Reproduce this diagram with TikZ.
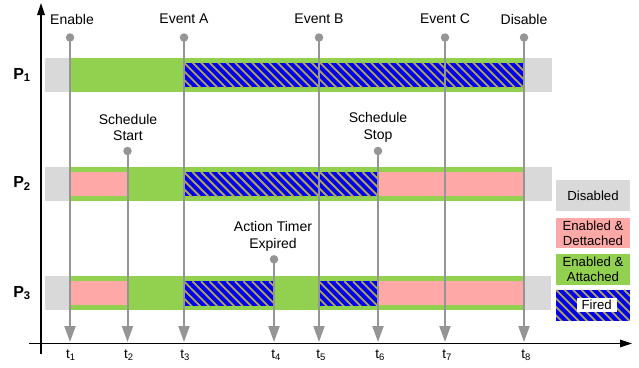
\documentclass[tikz,border=0pt]{standalone}
\usepackage{fontspec}
\setmainfont{Liberation Sans}
\usetikzlibrary{arrows.meta}
\definecolor{disgray}{HTML}{D9D9D9}
\definecolor{attgreen}{HTML}{92D050}
\definecolor{detpink}{HTML}{FFA8A8}
\definecolor{fblue}{HTML}{0000F0}
\definecolor{stripe}{RGB}{175,165,85}
\definecolor{lgray}{HTML}{959595}
\begin{document}
\begin{tikzpicture}[x=1pt,y=-1pt,
  every node/.style={font=\fontsize{14}{16.5}\selectfont, inner sep=0pt, align=center},
  dis/.style={fill=disgray},
  att/.style={fill=attgreen},
  det/.style={fill=detpink},
  fired/.style={fill=fblue, path picture={
      \foreach \k in {-51,-42.5,...,400}{
        \draw[stripe, line width=1.8pt] ([xshift=\k pt]path picture bounding box.north west) -- ++(45pt,-45pt);}}},
  evline/.style={draw=lgray, line width=2pt, -{Triangle[length=16pt,width=11pt]}},
  evdot/.style={circle, fill=lgray, minimum size=8.5pt, inner sep=0pt},
  axisline/.style={draw=black, line width=1.2pt, -{Triangle[length=12pt,width=7.5pt]}},
  plabel/.style={font=\fontsize{16}{18}\bfseries\selectfont},
  tlabel/.style={font=\fontsize{13.5}{15}\selectfont},
  legbox/.style={minimum width=74pt, minimum height=30.8pt, font=\fontsize{13.2}{15}\selectfont},
]
\useasboundingbox (0,0) rectangle (639,367);

% ---- P1 row
\path[dis] (45,58) rectangle (552,92);
\path[att] (70,58) rectangle (524,92);
\path[fired] (184,62.7) rectangle (524,87.3);

% ---- P2 row
\path[dis] (45,166.7) rectangle (552,200.7);
\path[att] (70,166.7) rectangle (524,200.7);
\path[det] (70,172) rectangle (127.5,196);
\path[fired] (184,172) rectangle (378,196);
\path[det] (378,172) rectangle (524,196);

% ---- P3 row
\path[dis] (45,276) rectangle (551,310);
\path[att] (70,276) rectangle (524,310);
\path[det] (70,281) rectangle (127.5,304.5);
\path[fired] (184,281.3) rectangle (274,305.5);
\path[fired] (319,281.3) rectangle (378,305.5);
\path[det] (378,281) rectangle (524,304.5);

% ---- row labels
\node[plabel] (p1) at (22,75) {P\textsubscript{1}};
\node[plabel] (p2) at (22,183.5) {P\textsubscript{2}};
\node[plabel] (p3) at (22,293) {P\textsubscript{3}};

% ---- axes
\coordinate (ya0) at (41,354);
\coordinate (ya1) at (41,3);
\coordinate (xa0) at (29,343.5);
\coordinate (xa1) at (632,343.5);
\draw[axisline] (ya0) -- (ya1);
\draw[axisline] (xa0) -- (xa1);

% ---- event dots
\node[evdot] (d1) at (70,37.5) {};
\node[evdot] (d2) at (127.5,151) {};
\node[evdot] (d3) at (184,37.5) {};
\node[evdot] (d4) at (274,259.3) {};
\node[evdot] (d5) at (319,37.5) {};
\node[evdot] (d6) at (378,151) {};
\node[evdot] (d7) at (445,37.5) {};
\node[evdot] (d8) at (524,37.5) {};

% ---- arrow ends on time axis
\coordinate (b1) at (70,342);
\coordinate (b2) at (127.5,342);
\coordinate (b3) at (184,342);
\coordinate (b4) at (274,342);
\coordinate (b5) at (319,342);
\coordinate (b6) at (378,342);
\coordinate (b7) at (445,342);
\coordinate (b8) at (524,342);

\foreach \i in {1,...,8}{\draw[evline] (d\i.center) -- (b\i);}

% ---- event labels
\node (l1) at (72,19) {Enable};
\node (l2) at (128,127.5) {Schedule\\Start};
\node (l3) at (184,19) {Event A};
\node (l4) at (273,236.5) {Action Timer\\Expired};
\node (l5) at (319,19) {Event B};
\node (l6) at (378,127.5) {Schedule\\Stop};
\node (l7) at (445,19) {Event C};
\node (l8) at (524,19) {Disable};

% ---- time labels
\node[tlabel] (t1) at (71,355.5) {t\textsubscript{1}};
\node[tlabel] (t2) at (129,355.5) {t\textsubscript{2}};
\node[tlabel] (t3) at (185,355.5) {t\textsubscript{3}};
\node[tlabel] (t4) at (276,355.5) {t\textsubscript{4}};
\node[tlabel] (t5) at (321,355.5) {t\textsubscript{5}};
\node[tlabel] (t6) at (380,355.5) {t\textsubscript{6}};
\node[tlabel] (t7) at (447,355.5) {t\textsubscript{7}};
\node[tlabel] (t8) at (526,355.5) {t\textsubscript{8}};

% ---- legend
\node[legbox, dis] (lg1) at (593,195.3) {Disabled};
\node[legbox, det] (lg2) at (593,233) {Enabled \&\\Dettached};
\node[legbox, att] (lg3) at (593,269.5) {Enabled \&\\Attached};
\node[legbox, fired] (lg4) at (593,305.3) {};
\node[fill=white, minimum width=40pt, minimum height=14pt, font=\fontsize{13.2}{15}\selectfont] (lg4t) at (596.7,305) {Fired};
\end{tikzpicture}
\end{document}
